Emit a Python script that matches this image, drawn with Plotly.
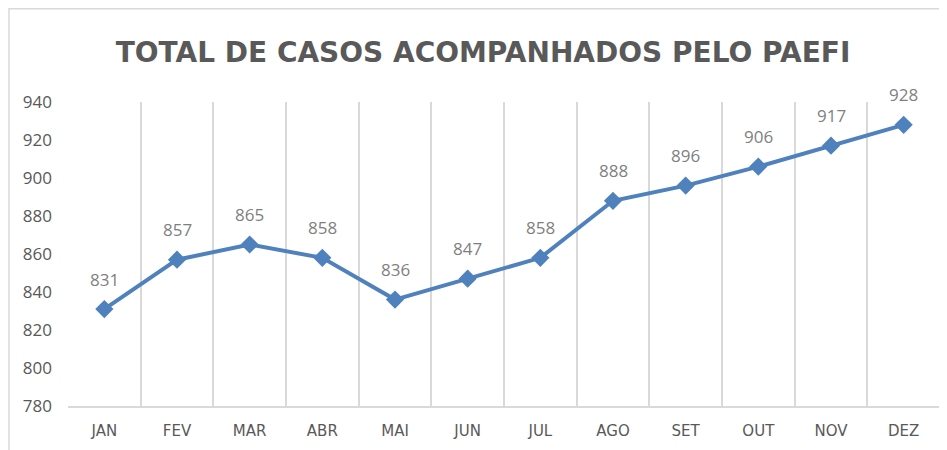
import plotly.graph_objects as go

months = ["JAN", "FEV", "MAR", "ABR", "MAI", "JUN", "JUL", "AGO", "SET", "OUT", "NOV", "DEZ"]
casos = [831, 857, 865, 858, 836, 847, 858, 888, 896, 906, 917, 928]
y_ticks = [780, 800, 820, 840, 860, 880, 900, 920, 940]

title_text = "TOTAL DE CASOS ACOMPANHADOS PELO PAEFI"

# page body has an 8px margin, so the figure is sized to fit the window
W, H = 939, 442
L, R, T, B = 60, 7, 94, 44
pw = W - L - R
ph = H - T - B

fig = go.Figure()
fig.add_trace(go.Scatter(
    x=months, y=casos,
    mode="lines+markers",
    line=dict(color="#4F81BD", width=4),
    marker=dict(symbol="diamond", size=14, color="#4F81BD"),
    cliponaxis=False,
    hoverinfo="x+y",
))

annotations = [
    dict(x=m, y=v, text=str(v), showarrow=False, yshift=30, yanchor="middle",
         font=dict(family="Open Sans", size=17, color="#7F7F7F"))
    for m, v in zip(months, casos)
]

fig.update_layout(
    width=W, height=H,
    margin=dict(l=L, r=R, t=T, b=B),
    paper_bgcolor="white", plot_bgcolor="white",
    showlegend=False,
    title=dict(
        text=title_text,
        x=475 / W, xanchor="center",
        y=1 - 44 / H, yanchor="middle",
        font=dict(family="DejaVu Sans", size=28, color="#595959", weight="bold"),
    ),
    xaxis=dict(
        type="category",
        tickson="boundaries",
        showgrid=True, gridcolor="#D9D9D9", gridwidth=1.5,
        showline=True, linecolor="#D9D9D9", linewidth=1.5,
        ticks="", ticklen=0, ticklabelstandoff=10,
        tickfont=dict(family="DejaVu Sans", size=15, color="#595959"),
        range=[-0.5, 11.5],
        zeroline=False,
    ),
    yaxis=dict(
        range=[780, 940],
        tickvals=y_ticks,
        showgrid=False,
        showline=False,
        zeroline=False,
        ticks="", ticklen=0, ticklabelstandoff=15,
        tickfont=dict(family="Open Sans", size=17, color="#595959"),
    ),
    annotations=annotations,
    shapes=[dict(
        type="rect", xref="paper", yref="paper",
        x0=(1 - L) / pw, x1=(W + 5 - L) / pw,
        y0=-(B + 10) / ph,
        y1=(H - B - 0.75) / ph,
        line=dict(color="#D9D9D9", width=1.5),
        fillcolor="rgba(0,0,0,0)",
        layer="below",
    )],
)

fig.write_html("out.html")
